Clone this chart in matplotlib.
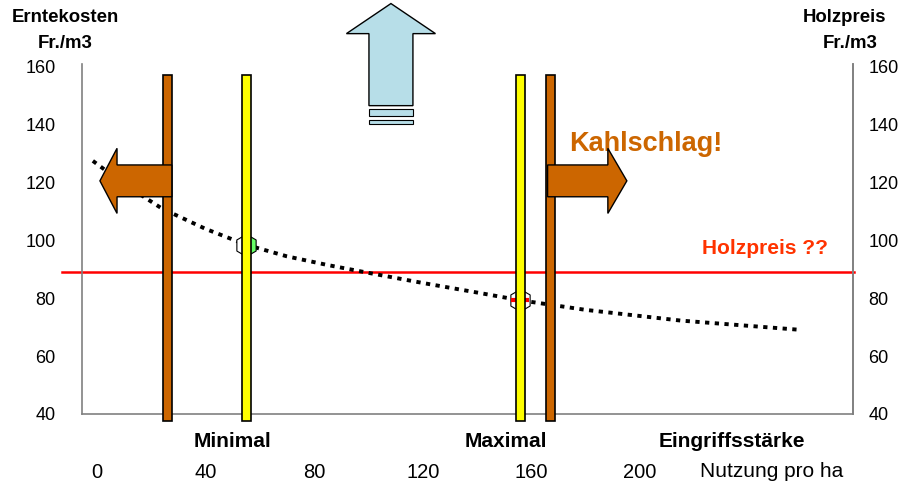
import matplotlib
matplotlib.use("Agg")
import matplotlib.pyplot as plt
from matplotlib.patches import FancyArrow, Rectangle

plt.rcParams['font.family'] = ['Liberation Sans', 'DejaVu Sans']

# Harvest cost curve (Fr./m3) over intervention intensity
nutzung = [-1.5, 10, 24, 40, 55, 70, 85, 100, 120, 140, 156, 180, 215, 259]
kosten = [127.5, 119.5, 111, 104, 98.5, 94.5, 91.5, 88.8, 85.3, 82, 79.3,
          76, 72.3, 69.1]

# Limits: outer (brown) and inner (yellow) intervention bounds
grenzen_braun = [26, 167]
grenzen_gelb = [55, 156]
holzpreis = 89
minimal = (55, 98.5)
maximal = (156, 79.3)

x_ticks = [0, 40, 80, 120, 160, 200]
x_labels = ['0', '40', '80', '120', '160', '200']
y_ticks = [40, 60, 80, 100, 120, 140, 160]

braun = '#CC6600'
gelb = '#FFFF00'

fig = plt.figure(figsize=(9.03, 4.84), dpi=100)
ax = fig.add_axes([82 / 903, 70 / 484, 771 / 903, 350 / 484])
ax.set_xlim(-5.5, 278.5)
ax.set_ylim(40, 161)

for s in ['left', 'right', 'bottom']:
    ax.spines[s].set_color('#808080')
    ax.spines[s].set_linewidth(1.2)
ax.spines['top'].set_visible(False)

ax.set_yticks(y_ticks)
ax.tick_params(axis='y', length=0, pad=19, labelsize=13)
ax.set_xticks(x_ticks)
ax.set_xticklabels(x_labels)
ax.tick_params(axis='x', length=0, pad=35, labelsize=14.5)

ax2 = ax.twinx()
ax2.set_ylim(ax.get_ylim())
ax2.set_yticks(y_ticks)
ax2.tick_params(axis='y', length=0, pad=11, labelsize=13)
ax2.spines['top'].set_visible(False)
ax2.spines['right'].set_color('#808080')
ax2.spines['right'].set_linewidth(1.2)
ax2.spines['left'].set_visible(False)
ax2.spines['bottom'].set_visible(False)

# Bars for the bounds
ax.bar(grenzen_braun, 157.3 - 37.6, bottom=37.6, width=3.3, color=braun,
       edgecolor='black', linewidth=1.2, clip_on=False, zorder=3)
ax.bar(grenzen_gelb, 157.3 - 37.6, bottom=37.6, width=3.3, color=gelb,
       edgecolor='black', linewidth=1.2, clip_on=False, zorder=3)

# Timber price line
ax.plot([-13, 279], [holzpreis, holzpreis], color='#FF0000', lw=1.8,
        clip_on=False, zorder=2)

# Cost curve
ax.plot(nutzung, kosten, color='black', lw=2.8, linestyle=(0, (1.1, 1.4)),
        clip_on=False, zorder=2)

# Markers where the curve meets the yellow bounds
ax.plot(*minimal, marker='h', markersize=16, markerfacecolor='#66FF66',
        markerfacecoloralt='white', fillstyle='right', markeredgecolor='black',
        markeredgewidth=0.8, zorder=2.5)
ax.plot(*maximal, marker='h', markersize=16, markerfacecolor='white',
        markeredgecolor='black', markeredgewidth=0.8, zorder=2.5)
ax.plot(*maximal, marker='_', markersize=13, markeredgecolor='#FF0000',
        markeredgewidth=3, zorder=2.6)

# Arrows
ax.add_patch(FancyArrow(27.6, 120.6, 1.1 - 27.6, 0, width=11, head_width=22.5,
                        head_length=6.3, length_includes_head=True, fc=braun,
                        ec='black', lw=1, clip_on=False, zorder=4))
ax.add_patch(FancyArrow(166, 120.6, 195.2 - 166, 0, width=11, head_width=22.5,
                        head_length=7, length_includes_head=True, fc=braun,
                        ec='black', lw=1, clip_on=False, zorder=4))
blau = '#B7DEE8'
ax.add_patch(FancyArrow(108.3, 146.6, 0, 181.9 - 146.6, width=16.2,
                        head_width=32.8, head_length=10.4,
                        length_includes_head=True, fc=blau, ec='black', lw=1,
                        clip_on=False, zorder=4))
for y0, y1 in [(143.1, 145.5), (140.3, 141.7)]:
    ax.add_patch(Rectangle((100.2, y0), 16.2, y1 - y0, fc=blau, ec='black',
                           lw=0.8, clip_on=False, zorder=4))

# Labels
ax.text(174, 133.5, 'Kahlschlag!', color=braun, fontsize=19.5,
        fontweight='bold', va='center', ha='left')
ax.text(246, 97.1, 'Holzpreis ??', color='#FF3300', fontsize=15,
        fontweight='bold', va='center', ha='center')
ax.text(50, 30.5, 'Minimal', fontsize=15, fontweight='bold', ha='center',
        va='center', clip_on=False)
ax.text(150.5, 30.5, 'Maximal', fontsize=15, fontweight='bold', ha='center',
        va='center', clip_on=False)
ax.text(234, 30.5, 'Eingriffsstärke', fontsize=15, fontweight='bold',
        ha='center', va='center', clip_on=False)
ax.text(248.5, 20, 'Nutzung pro ha', fontsize=15, ha='center', va='center',
        clip_on=False)

fig.text(65 / 903, 1 - 18 / 484, 'Erntekosten', fontsize=13.4,
         fontweight='bold', ha='center', va='center')
fig.text(65 / 903, 1 - 44 / 484, 'Fr./m3', fontsize=13.4, fontweight='bold',
         ha='center', va='center')
fig.text(845 / 903, 1 - 18 / 484, 'Holzpreis', fontsize=13.4,
         fontweight='bold', ha='center', va='center')
fig.text(850 / 903, 1 - 44 / 484, 'Fr./m3', fontsize=13.4, fontweight='bold',
         ha='center', va='center')

fig.savefig('out.png', dpi=100)
